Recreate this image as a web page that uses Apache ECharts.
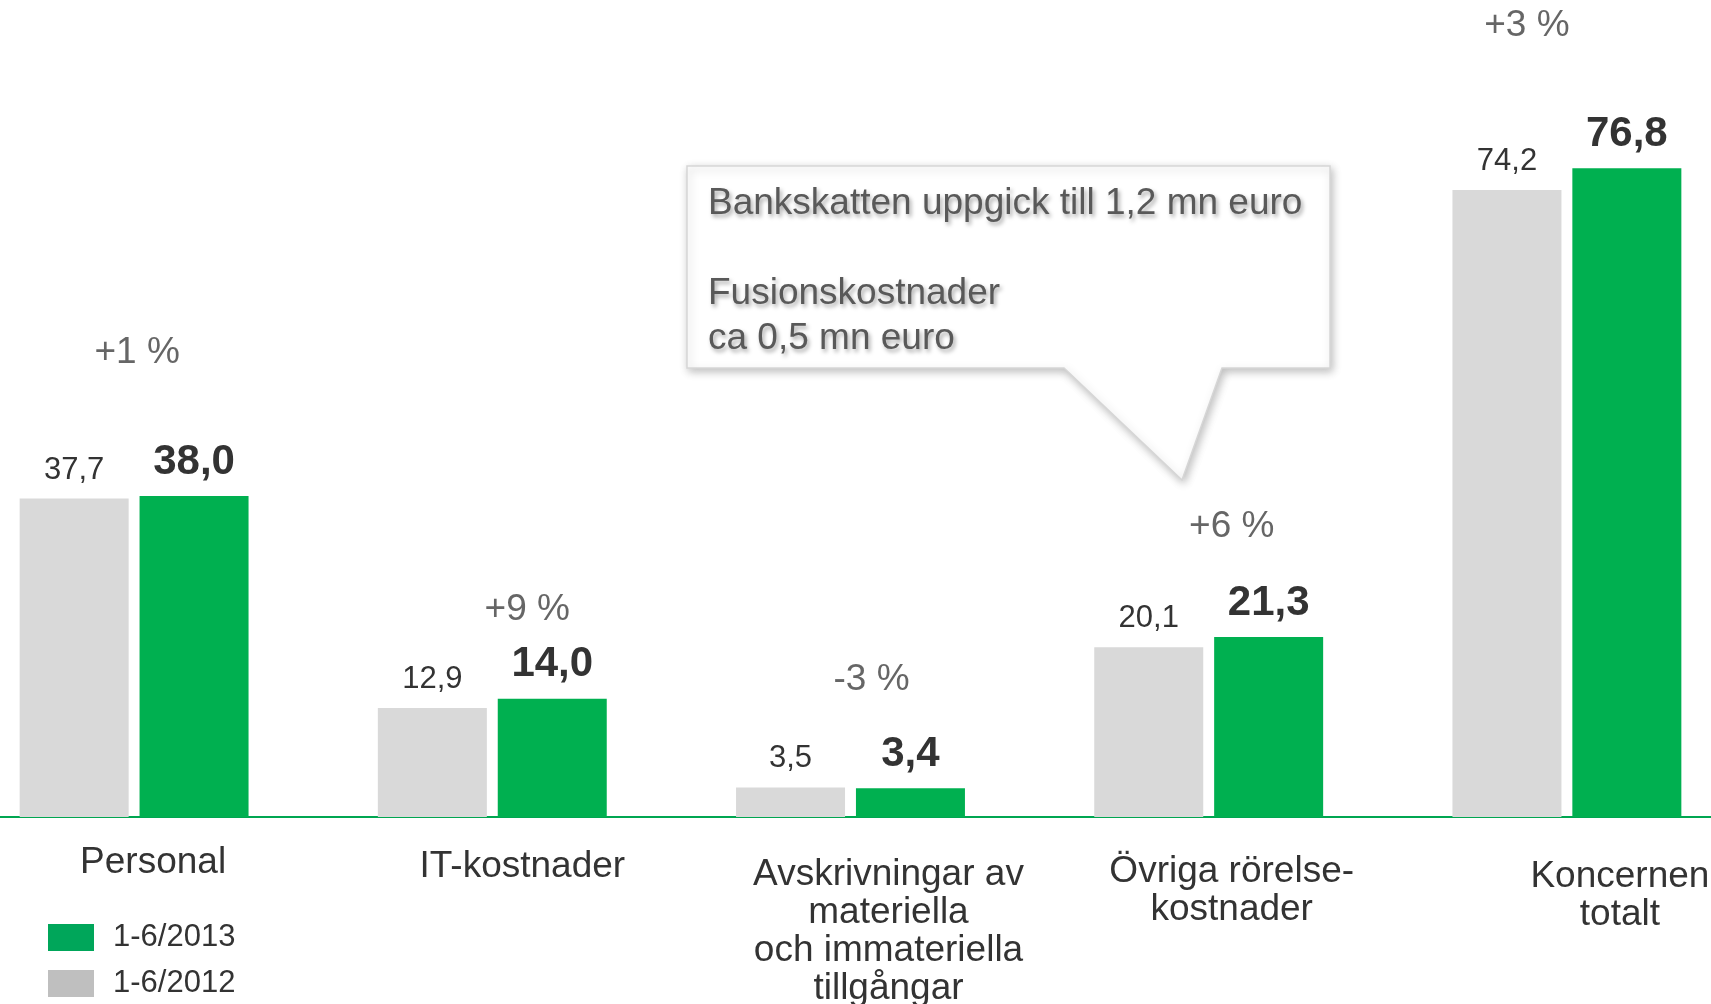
<!DOCTYPE html>
<html>
<head>
<meta charset="utf-8">
<title>Kostnader 1-6/2013</title>
<script src="https://cdn.jsdelivr.net/npm/echarts@6/dist/echarts.min.js"></script>
<style>
  html, body { margin: 0; padding: 0; background: #fff; }
  #main { width: 1711px; height: 1004px; }
</style>
</head>
<body>
<div id="main"></div>
<script>
// data (mn euro)
var categories = [
  'Personal',
  'IT-kostnader',
  'Avskrivningar av\nmateriella\noch immateriella\ntillgångar',
  'Övriga rörelse-\nkostnader',
  'Koncernen\ntotalt'
];
var seriesNames = ['1-6/2012', '1-6/2013'];
var values2012 = [37.7, 12.9, 3.5, 20.1, 74.2];
var values2013 = [38.0, 14.0, 3.4, 21.3, 76.8];
var changeLabels = ['+1 %', '+9 %', '-3 %', '+6 %', '+3 %'];
var calloutText = 'Bankskatten uppgick till 1,2 mn euro\n\nFusionskostnader\nca 0,5 mn euro';

// layout of the annotations (not data)
var changeLabelLevel = [55.0, 24.5, 16.2, 34.3, 93.6];
var changeLabelShift = [3, 35, 21, 23, -40];
var catLabelShift = [19, 30, 38, 23, 53];
var catLabelDrop = [0, 4, 12, 9, 14];

var FONT = "'Liberation Sans', Arial, sans-serif";
var GREEN = '#00b050';
var GRAY = '#d9d9d9';

function fmt(v) {
  return v.toFixed(1).replace('.', ',');
}

var chartDom = document.getElementById('main');
var myChart = echarts.init(chartDom);

var option = {
  animation: false,
  backgroundColor: '#fff',
  grid: {
    left: -45,
    right: -35,
    top: 0,
    bottom: 187,
    containLabel: false,
    outerBoundsMode: 'none'
  },
  legend: {
    orient: 'vertical',
    left: 48,
    top: 922,
    height: 120,
    padding: 0,
    itemWidth: 46,
    itemHeight: 27,
    itemGap: 15,
    icon: 'rect',
    selectedMode: false,
    textStyle: {
      fontFamily: FONT,
      fontSize: 31,
      lineHeight: 31,
      color: '#333',
      padding: [0, 0, 0, 14]
    },
    data: [
      { name: seriesNames[1], itemStyle: { color: '#00a65a' } },
      { name: seriesNames[0], itemStyle: { color: '#bfbfbf' } }
    ]
  },
  xAxis: {
    type: 'category',
    data: categories.map(function (c, i) {
      return {
        value: c,
        textStyle: { padding: [catLabelDrop[i], 0, 0, catLabelShift[i] * 2] }
      };
    }),
    axisLine: { show: true, lineStyle: { color: '#00a651', width: 2 } },
    axisTick: { show: false },
    splitLine: { show: false },
    axisLabel: {
      interval: 0,
      margin: 27,
      fontFamily: FONT,
      fontSize: 37,
      lineHeight: 38,
      color: '#333',
      align: 'center',
      verticalAlign: 'top'
    }
  },
  yAxis: {
    type: 'value',
    min: 0,
    max: 96.7,
    show: false,
    splitLine: { show: false }
  },
  series: [
    {
      name: seriesNames[0],
      type: 'bar',
      barWidth: 109,
      barGap: '10%',
      data: values2012,
      itemStyle: { color: GRAY },
      label: {
        show: true,
        position: 'top',
        distance: 13,
        fontFamily: FONT,
        fontSize: 31,
        color: '#333',
        formatter: function (p) { return fmt(p.value); }
      }
    },
    {
      name: seriesNames[1],
      type: 'bar',
      barWidth: 109,
      data: values2013,
      itemStyle: { color: GREEN },
      label: {
        show: true,
        position: 'top',
        distance: 13,
        fontFamily: FONT,
        fontSize: 42,
        fontWeight: 'bold',
        color: '#333',
        formatter: function (p) { return fmt(p.value); }
      }
    },
    {
      name: 'change',
      type: 'scatter',
      symbolSize: 0,
      silent: true,
      data: changeLabels.map(function (t, i) {
        return {
          value: [i, changeLabelLevel[i]],
          label: { offset: [changeLabelShift[i], 0] }
        };
      }),
      label: {
        show: true,
        position: 'inside',
        fontFamily: FONT,
        fontSize: 37,
        color: '#404040',
        formatter: function (p) { return changeLabels[p.dataIndex]; }
      }
    }
  ],
  graphic: [
    {
      type: 'polygon',
      z: 10,
      shape: {
        points: [
          [687, 166], [1330, 166], [1330, 368], [1222, 368],
          [1182, 480], [1064, 368], [687, 368]
        ]
      },
      style: {
        fill: '#fff',
        stroke: '#d6d6d6',
        lineWidth: 1.5,
        shadowBlur: 8,
        shadowColor: 'rgba(0,0,0,0.25)',
        shadowOffsetX: 2,
        shadowOffsetY: 3
      }
    },
    {
      type: 'text',
      z: 11,
      left: 708,
      top: 181,
      style: {
        text: calloutText,
        font: '37px ' + FONT,
        lineHeight: 45,
        fill: '#595959',
        textShadowColor: 'rgba(0,0,0,0.35)',
        textShadowBlur: 4,
        textShadowOffsetX: 2,
        textShadowOffsetY: 3
      }
    }
  ]
};

option && myChart.setOption(option);
</script>
</body>
</html>
